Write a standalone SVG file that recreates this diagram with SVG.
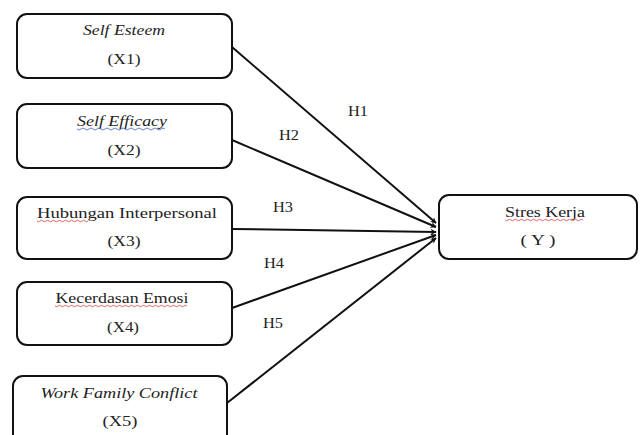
<svg xmlns="http://www.w3.org/2000/svg" width="642" height="435" viewBox="0 0 642 435">
<style>
.box{fill:#fff;stroke:#111;stroke-width:2}
.t{font-family:"Liberation Serif","Times New Roman","DejaVu Serif",serif;font-size:14px;fill:#222;text-anchor:middle}
.i{font-style:italic}
.e{stroke:#111;stroke-width:2;fill:none;marker-end:url(#ah)}
.sq{stroke:#d04040;stroke-width:0.8;fill:none}
.sqb{stroke:#4060c0;stroke-width:0.8;fill:none}
</style>
<defs>
<marker id="ah" viewBox="0 0 10 10" refX="9" refY="5" markerWidth="6" markerHeight="6" markerUnits="userSpaceOnUse" orient="auto">
<path d="M0,0 L10,5 L0,10 L3,5 z" fill="#111"/>
</marker>
</defs>
<g id="connectors">
<line class="e" x1="232" y1="47" x2="436" y2="223"/>
<line class="e" x1="232" y1="140" x2="436" y2="227"/>
<line class="e" x1="232" y1="229" x2="436" y2="232"/>
<line class="e" x1="232" y1="308" x2="436" y2="235"/>
<line class="e" x1="227" y1="403" x2="436" y2="238"/>
<text class="t" x="358" y="116" textLength="20" lengthAdjust="spacingAndGlyphs">H1</text>
<text class="t" x="289" y="140" textLength="20" lengthAdjust="spacingAndGlyphs">H2</text>
<text class="t" x="283" y="212" textLength="20" lengthAdjust="spacingAndGlyphs">H3</text>
<text class="t" x="274" y="268" textLength="20" lengthAdjust="spacingAndGlyphs">H4</text>
<text class="t" x="273" y="328" textLength="20" lengthAdjust="spacingAndGlyphs">H5</text>
</g>
<g id="x1">
<rect class="box" x="17" y="14" width="215" height="64" rx="10"/>
<text class="t i" x="124" y="35" textLength="82" lengthAdjust="spacingAndGlyphs">Self Esteem</text>
<text class="t" x="124" y="64" textLength="33" lengthAdjust="spacingAndGlyphs">(X1)</text>
</g>
<g id="x2">
<rect class="box" x="17" y="104" width="215" height="64" rx="10"/>
<text class="t i" x="122" y="126" textLength="90" lengthAdjust="spacingAndGlyphs">Self Efficacy</text>
<path class="sqb" d="M77,129 q2,2 4,0 t4,0 t4,0 t4,0 t4,0 t4,0 t4,0 t4,0 t4,0 t4,0 t4,0 t4,0 t4,0 t4,0 t4,0 t4,0 t4,0 t4,0 t4,0 t4,0 t4,0 t4,0"/>
<text class="t" x="124" y="155" textLength="33" lengthAdjust="spacingAndGlyphs">(X2)</text>
</g>
<g id="x3">
<rect class="box" x="17" y="197" width="215" height="62" rx="10"/>
<text class="t" x="127" y="218" textLength="180" lengthAdjust="spacingAndGlyphs">Hubungan Interpersonal</text>
<path class="sq" d="M37,221 q1.5,1.5 3,0 t3,0 t3,0 t3,0 t3,0 t3,0 t3,0 t3,0 t3,0 t3,0 t3,0 t3,0 t3,0 t3,0 t3,0 t3,0 t3,0"/>
<text class="t" x="124" y="246" textLength="33" lengthAdjust="spacingAndGlyphs">(X3)</text>
</g>
<g id="x4">
<rect class="box" x="17" y="282" width="215" height="63" rx="10"/>
<text class="t" x="122" y="303" textLength="133" lengthAdjust="spacingAndGlyphs">Kecerdasan Emosi</text>
<path class="sq" d="M55,306 q1.5,1.5 3,0 t3,0 t3,0 t3,0 t3,0 t3,0 t3,0 t3,0 t3,0 t3,0 t3,0 t3,0 t3,0 t3,0 t3,0 t3,0 t3,0 t3,0 t3,0 t3,0 t3,0 t3,0 t3,0 t3,0 t3,0 t3,0 t3,0 t3,0 t3,0 t3,0 t3,0 t3,0 t3,0 t3,0 t3,0 t3,0 t3,0 t3,0 t3,0 t3,0 t3,0 t3,0 t3,0 t3,0"/>
<text class="t" x="123" y="332" textLength="32" lengthAdjust="spacingAndGlyphs">(X4)</text>
</g>
<g id="x5">
<rect class="box" x="13" y="376" width="214" height="70" rx="10"/>
<text class="t i" x="119" y="398" textLength="157" lengthAdjust="spacingAndGlyphs">Work Family Conflict</text>
<text class="t" x="120" y="426" textLength="35" lengthAdjust="spacingAndGlyphs">(X5)</text>
</g>
<g id="y">
<rect class="box" x="439" y="195" width="198" height="64" rx="10"/>
<text class="t" x="545" y="217" textLength="80" lengthAdjust="spacingAndGlyphs">Stres Kerja</text>
<path class="sq" d="M505,220 q1.5,1.5 3,0 t3,0 t3,0 t3,0 t3,0 t3,0 t3,0 t3,0 t3,0 t3,0 t3,0 t3,0 t3,0 t3,0 t3,0 t3,0 t3,0 t3,0 t3,0 t3,0 t3,0 t3,0 t3,0 t3,0 t3,0 t3,0"/>
<text class="t" x="538" y="245" textLength="35" lengthAdjust="spacingAndGlyphs">( Y )</text>
</g>
</svg>
